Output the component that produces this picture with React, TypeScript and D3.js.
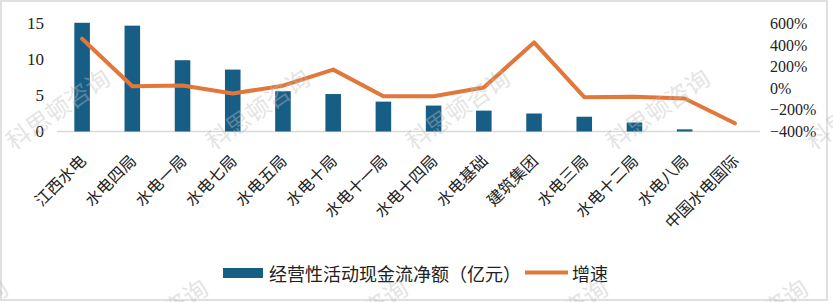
import React from "react";
import * as d3 from "d3";

const categories = [
  "江西水电", "水电四局", "水电一局", "水电七局", "水电五局", "水电十局", "水电十一局",
  "水电十四局", "水电基础", "建筑集团", "水电三局", "水电十二局", "水电八局", "中国水电国际",
];
const cashFlow = [15.1, 14.7, 9.9, 8.6, 5.6, 5.2, 4.15, 3.6, 2.9, 2.5, 2.05, 1.25, 0.3, 0];
const growth = [459, 19, 25, -48, 24, 173, -73, -73, 7, 425, -82, -79, -94, -324];
const leftTicks = [0, 5, 10, 15];
const rightTicks = [-400, -200, 0, 200, 400, 600];
const legendBar = "经营性活动现金流净额（亿元）";
const legendLine = "增速";
const watermark = "科思顿咨询";

const W = 833;
const H = 302;
const BAR = "#175E86";
const LINE = "#E2773A";
const CJK = "'Noto Sans CJK SC', sans-serif";
const NUM = "'Liberation Serif', 'Times New Roman', serif";

export default function App() {
  const x = d3.scaleBand<string>().domain(categories).range([57, 760]).paddingInner(0.69).paddingOuter(0.345);
  const yL = d3.scaleLinear().domain([0, 15]).range([131.5, 23.5]);
  const yR = d3.scaleLinear().domain([-400, 600]).range([131.5, 23.5]);
  const cx = (c: string) => (x(c) ?? 0) + x.bandwidth() / 2;
  const line = d3.line<number>().x((_, i) => cx(categories[i])).y((v) => yR(v));
  const fmtPct = (v: number) => (v < 0 ? "\u2212" + Math.abs(v) : String(v)) + "%";

  const wmPositions: [number, number][] = [];
  for (let k = 0; k < 5; k++) wmPositions.push([57 + 200 * k, 108]);
  for (let k = 0; k < 5; k++) wmPositions.push([-45 + 200 * k, 318]);

  return (
    <div style={{ position: "fixed", left: 0, top: 0, width: W, height: H, background: "#fff" }}>
      <svg width={W} height={H} style={{ display: "block" }}>
        <rect x={0} y={0} width={W} height={H} fill="#fff" />
        <rect x={1} y={1} width={826} height={299} fill="none" stroke="#d6d6d6" strokeWidth={1.5} />
        <line x1={57} x2={760} y1={yL(0)} y2={yL(0)} stroke="#d9d9d9" strokeWidth={1.5} />
        {categories.map((c, i) => (
          <rect key={c} x={x(c)} y={yL(cashFlow[i])} width={x.bandwidth()} height={yL(0) - yL(cashFlow[i])} fill={BAR} />
        ))}
        <path d={line(growth) ?? ""} fill="none" stroke={LINE} strokeWidth={4} strokeLinejoin="round" strokeLinecap="round" />
        {leftTicks.map((t) => (
          <text key={t} x={44} y={yL(t)} textAnchor="end" dominantBaseline="central" fontFamily={NUM} fontSize={17} fill="#222">
            {t}
          </text>
        ))}
        {rightTicks.map((t) => (
          <text key={t} x={770} y={yR(t)} textAnchor="start" dominantBaseline="central" fontFamily={NUM} fontSize={16} fill="#222">
            {fmtPct(t)}
          </text>
        ))}
        {categories.map((c) => (
          <text
            key={c}
            transform={`translate(${cx(c)},157) rotate(-45)`}
            textAnchor="end"
            dominantBaseline="central"
            fontFamily={CJK}
            fontSize={16}
            fill="#222"
          >
            {c}
          </text>
        ))}
        <rect x={223} y={268} width={40} height={10} fill={BAR} />
        <text x={269} y={273} dominantBaseline="central" fontFamily={CJK} fontSize={18} fill="#222">
          {legendBar}
        </text>
        <line x1={525} x2={568} y1={272.5} y2={272.5} stroke={LINE} strokeWidth={4} />
        <text x={572} y={273} dominantBaseline="central" fontFamily={CJK} fontSize={18} fill="#222">
          {legendLine}
        </text>
        {wmPositions.map(([wx, wy], i) => (
          <text
            key={i}
            transform={`translate(${wx},${wy}) rotate(-35)`}
            textAnchor="middle"
            dominantBaseline="central"
            fontFamily={CJK}
            fontSize={24}
            fill="#bdbdbd"
            opacity={0.4}
          >
            {watermark}
          </text>
        ))}
      </svg>
    </div>
  );
}
